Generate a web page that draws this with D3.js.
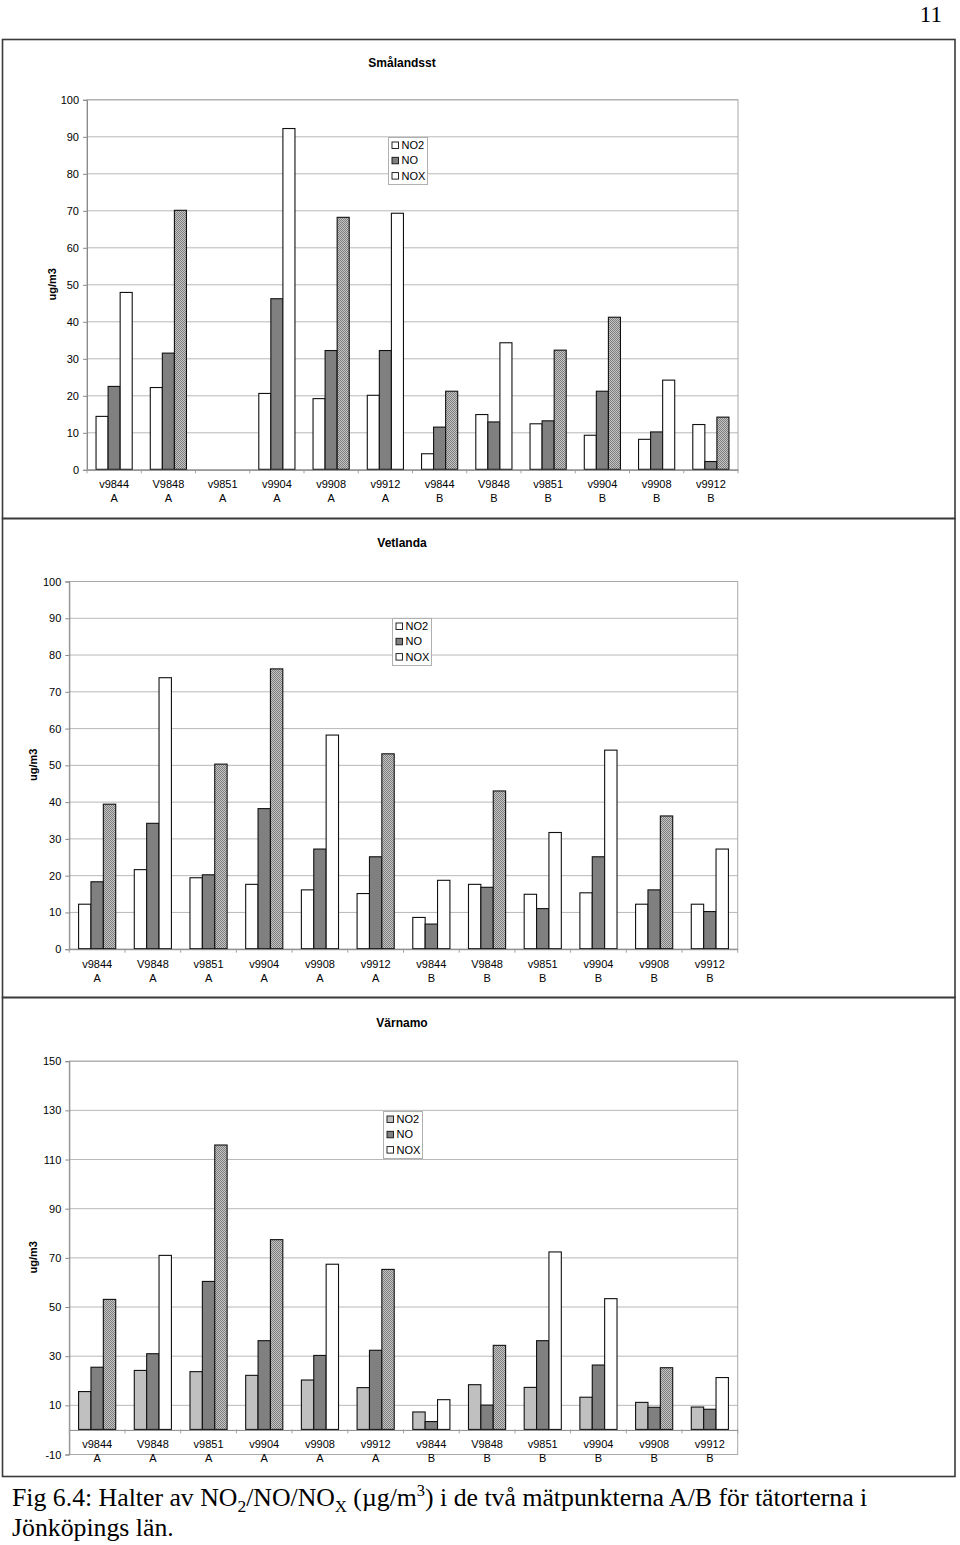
<!DOCTYPE html>
<html>
<head>
<meta charset="utf-8">
<script src="https://cdn.jsdelivr.net/npm/d3@7"></script>
<style>
  html, body { margin: 0; padding: 0; background: #fff; }
  svg { display: block; }
  text { font-family: "Liberation Sans", Arial, sans-serif; fill: #000; }
</style>
</head>
<body>
<svg id="page" width="960" height="1545"></svg>
<script>
// ---------- DATA ----------
const categories = ["v9844 A", "V9848 A", "v9851 A", "v9904 A", "v9908 A", "v9912 A",
                    "v9844 B", "V9848 B", "v9851 B", "v9904 B", "v9908 B", "v9912 B"];
const seriesNames = ["NO2", "NO", "NOX"];

const smalandTitle = "Smålandsst";
const smalandNO2 = [14.3, 22.1, null, 20.5, 19.1, 20.0, 4.2, 14.8, 12.3, 9.2, 8.1, 12.1];
const smalandNO  = [22.4, 31.4, null, 46.1, 32.1, 32.1, 11.4, 12.8, 13.1, 21.1, 10.1, 2.1];
const smalandNOX = [47.8, 70.0, null, 92.1, 68.1, 69.2, 21.1, 34.2, 32.2, 41.1, 24.1, 14.1];
const smalandNOXHatched = [0, 1, 0, 0, 1, 0, 1, 0, 1, 1, 0, 1];
const smalandTicks = [0, 10, 20, 30, 40, 50, 60, 70, 80, 90, 100];

const vetlandaTitle = "Vetlanda";
const vetlandaNO2 = [12.1, 21.5, 19.3, 17.5, 16.0, 15.0, 8.5, 17.5, 14.8, 15.2, 12.1, 12.1];
const vetlandaNO  = [18.2, 34.1, 20.1, 38.1, 27.1, 25.0, 6.7, 16.7, 10.9, 25.0, 16.0, 10.1];
const vetlandaNOX = [39.3, 73.7, 50.2, 76.1, 58.1, 53.0, 18.6, 42.9, 31.6, 54.0, 36.1, 27.1];
const vetlandaNOXHatched = [1, 0, 1, 1, 0, 1, 0, 1, 0, 0, 1, 0];
const vetlandaTicks = [0, 10, 20, 30, 40, 50, 60, 70, 80, 90, 100];

const varnamoTitle = "Värnamo";
const varnamoNO2 = [15.4, 24.0, 23.5, 22.0, 20.1, 17.0, 7.1, 18.2, 17.1, 13.1, 11.0, 9.1];
const varnamoNO  = [25.3, 30.8, 60.2, 36.1, 30.1, 32.2, 3.2, 9.9, 36.1, 26.2, 9.0, 8.2];
const varnamoNOX = [52.9, 70.8, 115.7, 77.2, 67.2, 65.1, 12.1, 34.2, 72.2, 53.2, 25.1, 21.1];
const varnamoNOXHatched = [1, 0, 1, 1, 0, 1, 0, 1, 0, 0, 1, 0];
const varnamoTicks = [-10, 10, 30, 50, 70, 90, 110, 130, 150];

const yAxisLabel = "ug/m3";
const pageNumber = "11";

// ---------- DRAWING ----------
const svg = d3.select("#page");
const defs = svg.append("defs");
const pat = defs.append("pattern").attr("id", "hatch")
  .attr("patternUnits", "userSpaceOnUse").attr("width", 2).attr("height", 2);
pat.append("rect").attr("width", 2).attr("height", 2).attr("fill", "#c4c4c4");
pat.append("rect").attr("width", 1).attr("height", 1).attr("fill", "#7e7e7e");
pat.append("rect").attr("x", 1).attr("y", 1).attr("width", 1).attr("height", 1).attr("fill", "#7e7e7e");

svg.append("text").attr("x", 942).attr("y", 22).attr("text-anchor", "end")
  .style("font-family", "'Liberation Serif', 'Times New Roman', serif")
  .style("font-size", "23px").text(pageNumber);

function drawChart(cfg) {
  const g = svg.append("g");
  // outer frame
  g.append("rect").attr("x", 2.5).attr("y", cfg.boxTop).attr("width", 952.5)
    .attr("height", cfg.boxBottom - cfg.boxTop)
    .attr("fill", "none").attr("stroke", "#3a3a3a").attr("stroke-width", 1.6);

  const x = d3.scaleBand().domain(categories).range([cfg.left, cfg.right]).padding(0);
  const bw = x.bandwidth() / 4.5;
  const xs = d3.scaleBand().domain(seriesNames)
    .range([0.75 * bw, 3.75 * bw]).padding(0);
  const y = d3.scaleLinear().domain(cfg.domain).range([cfg.bottom, cfg.top]);

  // gridlines
  g.append("g").selectAll("line").data(cfg.ticks).join("line")
    .attr("x1", cfg.left).attr("x2", cfg.right)
    .attr("y1", d => y(d) + 0.5).attr("y2", d => y(d) + 0.5)
    .attr("stroke", "#b8b8b8").attr("stroke-width", 1);
  // plot border
  g.append("rect").attr("x", cfg.left).attr("y", y(cfg.domain[1]) + 0.5)
    .attr("width", cfg.right - cfg.left).attr("height", y(cfg.domain[0]) - y(cfg.domain[1]))
    .attr("fill", "none").attr("stroke", "#a8a8a8").attr("stroke-width", 1);

  // y axis
  const yAxis = d3.axisLeft(y).tickValues(cfg.ticks).tickSize(4).tickPadding(4).tickFormat(d => String(d));
  const ya = g.append("g").attr("transform", `translate(${cfg.left},0.5)`).call(yAxis);
  ya.select(".domain").attr("stroke", "#8a8a8a");
  ya.selectAll(".tick line").attr("stroke", "#8a8a8a");
  ya.selectAll("text").style("font-size", "11px").style("font-family", "'Liberation Sans', Arial, sans-serif").attr("fill", "#111");

  // bars
  const series = [
    { key: "NO2", values: cfg.no2 },
    { key: "NO", values: cfg.no },
    { key: "NOX", values: cfg.nox }
  ];
  const bars = [];
  series.forEach(s => s.values.forEach((v, i) => {
    if (v == null) return;
    bars.push({ key: s.key, cat: categories[i], v, i });
  }));
  g.append("g").selectAll("rect").data(bars).join("rect")
    .attr("x", d => x(d.cat) + xs(d.key))
    .attr("width", xs.bandwidth())
    .attr("y", d => y(Math.max(0, d.v)))
    .attr("height", d => Math.abs(y(d.v) - y(0)))
    .attr("fill", d => {
      if (d.key === "NO2") return cfg.no2Fill;
      if (d.key === "NO") return "#808080";
      return cfg.noxHatched[d.i] ? "url(#hatch)" : "#ffffff";
    })
    .attr("stroke", "#111").attr("stroke-width", 1.1);

  // x axis at zero
  const xAxis = d3.axisBottom(x).tickSize(0).tickFormat("");
  const xa = g.append("g").attr("transform", `translate(0,${y(0) + 0.5})`).call(xAxis);
  xa.select(".domain").attr("stroke", "#8a8a8a");
  const bounds = categories.map(c => x(c)).concat([cfg.right]);
  g.append("g").selectAll("line").data(bounds).join("line")
    .attr("x1", d => d).attr("x2", d => d)
    .attr("y1", y(0)).attr("y2", y(0) + 4)
    .attr("stroke", "#a0a0a0");

  // category labels
  const lab = g.append("g").selectAll("text").data(categories).join("text")
    .attr("text-anchor", "middle")
    .style("font-size", "11px").attr("fill", "#111");
  lab.append("tspan").attr("x", d => x(d) + x.bandwidth() / 2).attr("y", y(0) + 19)
    .text(d => d.split(" ")[0]);
  lab.append("tspan").attr("x", d => x(d) + x.bandwidth() / 2).attr("y", y(0) + 33)
    .text(d => d.split(" ")[1]);

  // title
  g.append("text").attr("x", 402).attr("y", cfg.titleY).attr("text-anchor", "middle")
    .style("font-size", "12px").style("font-weight", "bold").text(cfg.title);
  // y label
  g.append("text").attr("transform", `translate(${cfg.ylabX},${(cfg.top + cfg.bottom) / 2}) rotate(-90)`)
    .attr("text-anchor", "middle").style("font-size", "11px").style("font-weight", "bold")
    .text(yAxisLabel);

  // legend
  const lg = g.append("g").attr("transform", `translate(${cfg.legX},${cfg.legY})`);
  lg.append("rect").attr("x", 0.5).attr("y", 0.5).attr("width", 39).attr("height", 47)
    .attr("fill", "#fff").attr("stroke", "#b0b0b0");
  const legFills = [cfg.no2Fill, "#808080", "#ffffff"];
  seriesNames.forEach((n, k) => {
    const cy = 8 + k * 15.3;
    lg.append("rect").attr("x", 4).attr("y", cy - 3).attr("width", 6.5).attr("height", 6.5)
      .attr("fill", legFills[k]).attr("stroke", "#111").attr("stroke-width", 0.9);
    lg.append("text").attr("x", 13.5).attr("y", cy + 4).style("font-size", "11px").attr("fill", "#111").text(n);
  });
}

drawChart({
  title: smalandTitle, no2: smalandNO2, no: smalandNO, nox: smalandNOX, noxHatched: smalandNOXHatched,
  ticks: smalandTicks, domain: [0, 100], no2Fill: "#ffffff",
  left: 87, right: 738, top: 99.3, bottom: 469.3,
  boxTop: 39.5, boxBottom: 518.5, titleY: 67, ylabX: 56, legX: 388, legY: 137
});
drawChart({
  title: vetlandaTitle, no2: vetlandaNO2, no: vetlandaNO, nox: vetlandaNOX, noxHatched: vetlandaNOXHatched,
  ticks: vetlandaTicks, domain: [0, 100], no2Fill: "#ffffff",
  left: 69.3, right: 737.7, top: 581, bottom: 948.7,
  boxTop: 518.5, boxBottom: 997.5, titleY: 547, ylabX: 37, legX: 392, legY: 618
});
drawChart({
  title: varnamoTitle, no2: varnamoNO2, no: varnamoNO, nox: varnamoNOX, noxHatched: varnamoNOXHatched,
  ticks: varnamoTicks, domain: [-10, 150], no2Fill: "#c0c0c0",
  left: 69.3, right: 737.7, top: 1060.7, bottom: 1454,
  boxTop: 997.5, boxBottom: 1476.5, titleY: 1027, ylabX: 37, legX: 383, legY: 1111
});

// caption
const serif = "'Liberation Serif', 'Times New Roman', serif";
const cap = svg.append("text").attr("x", 12).attr("y", 1506)
  .style("font-family", serif).style("font-size", "25px");
cap.append("tspan").text("Fig 6.4: Halter av NO");
cap.append("tspan").attr("dy", 6).style("font-size", "17px").text("2");
cap.append("tspan").attr("dy", -6).text("/NO/NO");
cap.append("tspan").attr("dy", 6).style("font-size", "16px").text("X");
cap.append("tspan").attr("dy", -6).text(" (µg/m");
cap.append("tspan").attr("dy", -10).style("font-size", "16px").text("3");
cap.append("tspan").attr("dy", 10).text(") i de två mätpunkterna A/B för tätorterna i");
const w1 = cap.node().getComputedTextLength();
const sx = 856 / w1;
cap.attr("transform", `translate(${12 - 12 * sx},0) scale(${sx},1)`);
const cap2 = svg.append("text").attr("x", 12).attr("y", 1536)
  .style("font-family", serif).style("font-size", "25px").text("Jönköpings län.");
cap2.attr("transform", `translate(${12 - 12 * sx},0) scale(${sx},1)`);
</script>
</body>
</html>
